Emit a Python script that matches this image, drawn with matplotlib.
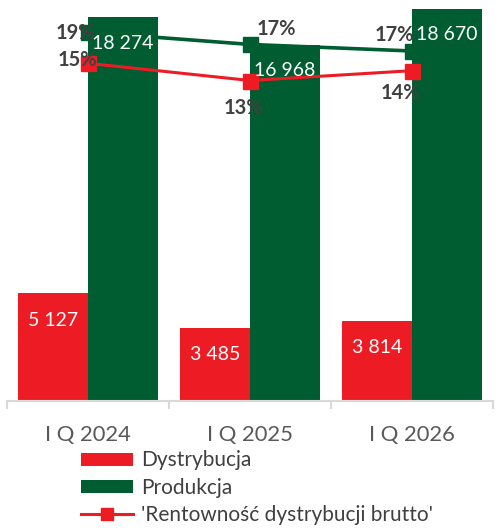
import matplotlib
matplotlib.use("Agg")
import matplotlib.pyplot as plt
from matplotlib.patches import Patch
from matplotlib.lines import Line2D

categories = ["I Q 2024", "I Q 2025", "I Q 2026"]
dystrybucja = [5127, 3485, 3814]
produkcja = [18274, 16968, 18670]
rent_produkcji = [18.9, 17.4, 16.6]
rent_dystrybucji = [15.1, 13.0, 14.2]
legend_labels = ["Dystrybucja", "Produkcja", "'Rentowność dystrybucji brutto'"]

RED = "#ED1C24"
GREEN = "#005C31"
TXT = "#404040"
AXTXT = "#595959"

plt.rcParams['font.family'] = ['Lato', 'DejaVu Sans']

W, H = 500, 531
fig = plt.figure(figsize=(W / 100, H / 100), dpi=100)
ax = fig.add_axes([7 / W, (H - 401) / H, 486 / W, 401 / H])

x = list(range(len(categories)))
bw = 0.432
xr = [i - bw / 2 for i in x]
xg = [i + bw / 2 for i in x]
ax.bar(xr, dystrybucja, width=bw, color=RED, zorder=2)
ax.bar(xg, produkcja, width=bw, color=GREEN, zorder=2)
ax.set_xlim(-0.5, 2.5)
ax.set_ylim(0, 19095)

for s in ["top", "left", "right"]:
    ax.spines[s].set_visible(False)
ax.spines["bottom"].set_color("#D9D9D9")
ax.spines["bottom"].set_linewidth(1.5)
ax.set_yticks([])
ax.set_xticks([-0.5, 0.5, 1.5, 2.5])
ax.set_xticklabels([])
ax.tick_params(axis="x", which="major", length=5.8, width=1.5, color="#D9D9D9", direction="out")
ax.set_xticks(x, minor=True)
ax.set_xticklabels(categories, minor=True)
ax.tick_params(axis="x", which="minor", length=0, pad=17, labelsize=15.8, labelcolor=AXTXT)

ax2 = ax.twinx()
ax2.set_ylim(-26.09, 22.82)
ax2.set_yticks([])
for s in ["top", "left", "right", "bottom"]:
    ax2.spines[s].set_visible(False)

ax2.plot(x, rent_produkcji, color=GREEN, lw=2.6, marker="s", markersize=10.8, zorder=3)
ax2.plot(x, rent_dystrybucji, color=RED, lw=2.2, marker="s", markersize=10.8, zorder=3)

# bar value labels (inside end)
for xi, v in zip(xr, dystrybucja):
    ax2.annotate(f"{v:,}".replace(",", " "), xy=(xi, v), xycoords=ax.transData,
                 xytext=(0, -27), textcoords="offset pixels", ha="center", va="center",
                 color="white", fontsize=14, zorder=5)
for xi, v in zip(xg, produkcja):
    ax2.annotate(f"{v:,}".replace(",", " "), xy=(xi, v), xycoords=ax.transData,
                 xytext=(0, -26), textcoords="offset pixels", ha="center", va="center",
                 color="white", fontsize=14, zorder=5)

# percentage labels
g_off = [(-12.5, -1), (26.5, 15), (-17.5, 16)]
r_off = [(-11, 3), (-6.5, -27), (-11.5, -22)]
for xi, v, o in zip(x, rent_produkcji, g_off):
    ax2.annotate(f"{v:.0f}%", xy=(xi, v), xytext=o, textcoords="offset pixels",
                 ha="center", va="center", color=TXT, fontsize=14.5, fontweight="bold", zorder=6)
for xi, v, o in zip(x, rent_dystrybucji, r_off):
    ax2.annotate(f"{v:.0f}%", xy=(xi, v), xytext=o, textcoords="offset pixels",
                 ha="center", va="center", color=TXT, fontsize=14.5, fontweight="bold", zorder=6)

handles = [Patch(facecolor=RED), Patch(facecolor=GREEN),
           Line2D([], [], color=RED, lw=2.2, marker="s", markersize=8.6)]
fig.legend(handles, legend_labels, loc="upper left", bbox_to_anchor=(81 / W, 1 - 450.5 / H),
           frameon=False, fontsize=15, handlelength=2.5, handletextpad=0.4,
           handleheight=0.6, borderpad=0, borderaxespad=0, labelspacing=0.34,
           labelcolor=TXT)

fig.savefig("out.png", dpi=100)
